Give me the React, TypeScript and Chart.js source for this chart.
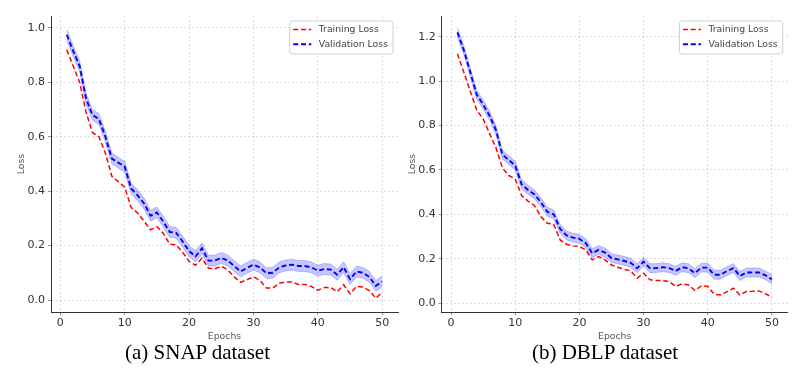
import React, { useEffect, useRef } from "react";
import { Chart, registerables } from "chart.js";

Chart.register(...registerables);

// ---------- data ----------
const epochs = Array.from({ length: 50 }, (_, i) => i + 1);
const xTicks = [0, 10, 20, 30, 40, 50];
const snapYTicks = [0, 0.2, 0.4, 0.6, 0.8, 1.0];
const dblpYTicks = [0, 0.2, 0.4, 0.6, 0.8, 1.0, 1.2];

const snapTrain = [
  0.92, 0.86, 0.8, 0.69, 0.615, 0.6, 0.54, 0.455, 0.435, 0.415,
  0.34, 0.32, 0.29, 0.258, 0.27, 0.245, 0.205, 0.203, 0.175, 0.142,
  0.128, 0.154, 0.117, 0.115, 0.124, 0.111, 0.085, 0.065, 0.075, 0.085,
  0.072, 0.044, 0.044, 0.062, 0.066, 0.066, 0.057, 0.057, 0.05, 0.036,
  0.046, 0.046, 0.03, 0.056, 0.023, 0.05, 0.048, 0.035, 0.007, 0.028,
];
const snapVal = [
  0.975, 0.915, 0.86, 0.74, 0.68, 0.665, 0.6, 0.52, 0.505, 0.49,
  0.41, 0.385, 0.355, 0.31, 0.322, 0.288, 0.25, 0.247, 0.215, 0.18,
  0.16, 0.19, 0.145, 0.145, 0.155, 0.145, 0.125, 0.105, 0.118, 0.13,
  0.12, 0.099, 0.1, 0.12, 0.127, 0.13, 0.125, 0.125, 0.12, 0.108,
  0.114, 0.112, 0.093, 0.121, 0.077, 0.105, 0.1, 0.085, 0.052, 0.068,
];
const dblpTrain = [
  1.124, 1.04, 0.955, 0.87, 0.83, 0.765, 0.7, 0.61, 0.575, 0.56,
  0.485, 0.46, 0.44, 0.39, 0.36, 0.355, 0.285, 0.265, 0.258, 0.255,
  0.24, 0.195, 0.21, 0.195, 0.172, 0.162, 0.152, 0.145, 0.112, 0.135,
  0.105, 0.102, 0.102, 0.097, 0.075, 0.087, 0.082, 0.057, 0.078, 0.075,
  0.04, 0.037, 0.052, 0.067, 0.037, 0.052, 0.053, 0.055, 0.042, 0.027,
];
const dblpVal = [
  1.22, 1.14, 1.04, 0.94, 0.895, 0.845, 0.78, 0.67, 0.645, 0.62,
  0.535, 0.51, 0.49, 0.455, 0.412, 0.4, 0.335, 0.305, 0.295, 0.29,
  0.27, 0.225, 0.24, 0.228, 0.203, 0.197, 0.19, 0.182, 0.157, 0.187,
  0.157, 0.158, 0.162, 0.158, 0.145, 0.162, 0.157, 0.135, 0.16, 0.16,
  0.128, 0.128, 0.145, 0.158, 0.122, 0.138, 0.138, 0.138, 0.125, 0.107,
];
const valBandHalfWidth = 0.02;

const legendLabels = ["Training Loss", "Validation Loss"];
const xTitle = "Epochs";
const yTitle = "Loss";
const captions = ["(a) SNAP dataset", "(b) DBLP dataset"];

// ---------- styles ----------
const RED = "rgb(255,0,0)";
const BLUE = "rgb(0,0,255)";
const BAND = "rgba(0,0,255,0.22)";
const GRID = "rgba(0,0,0,0.17)";
const FONT = "DejaVu Sans";

Chart.defaults.font.family = FONT;

const legendPlugin = {
  id: "insideLegend",
  afterDraw(chart: any) {
    const { ctx, chartArea } = chart;
    const ds = chart.data.datasets.slice(0, 2);
    ctx.save();
    ctx.font = `9.3px "${FONT}"`;
    const tw = Math.max(...ds.map((d: any) => ctx.measureText(d.label).width));
    const w = 29 + tw + 5;
    const h = 33;
    const x0 = chartArea.right - 5 - w;
    const y0 = chartArea.top + 5;
    ctx.beginPath();
    const r = 2.5;
    ctx.moveTo(x0 + r, y0);
    ctx.lineTo(x0 + w - r, y0);
    ctx.quadraticCurveTo(x0 + w, y0, x0 + w, y0 + r);
    ctx.lineTo(x0 + w, y0 + h - r);
    ctx.quadraticCurveTo(x0 + w, y0 + h, x0 + w - r, y0 + h);
    ctx.lineTo(x0 + r, y0 + h);
    ctx.quadraticCurveTo(x0, y0 + h, x0, y0 + h - r);
    ctx.lineTo(x0, y0 + r);
    ctx.quadraticCurveTo(x0, y0, x0 + r, y0);
    ctx.closePath();
    ctx.fillStyle = "rgba(255,255,255,0.85)";
    ctx.fill();
    ctx.strokeStyle = "#d0d0d0";
    ctx.lineWidth = 1;
    ctx.stroke();
    ds.forEach((d: any, i: number) => {
      const cy = y0 + 8.6 + i * 14.7;
      ctx.beginPath();
      ctx.setLineDash(d.borderDash);
      ctx.strokeStyle = d.borderColor;
      ctx.lineWidth = d.borderWidth;
      ctx.moveTo(x0 + 3.5, cy);
      ctx.lineTo(x0 + 21.5, cy);
      ctx.stroke();
      ctx.setLineDash([]);
      ctx.fillStyle = "#444";
      ctx.textBaseline = "middle";
      ctx.textAlign = "left";
      ctx.fillText(d.label, x0 + 29, cy);
    });
    ctx.restore();
  },
};

type PanelProps = {
  train: number[];
  val: number[];
  yTicks: number[];
  yMin: number;
  yMax: number;
  width: number;
  padLeft: number;
  yAxisWidth: number;
  padRight: number;
};

function axisGrid() {
  return {
    color: GRID,
    lineWidth: 0.8,
    drawTicks: true,
    tickLength: 3,
    tickColor: "#777",
    tickBorderDash: [],
    tickWidth: 0.8,
  };
}

function Panel(p: PanelProps) {
  const ref = useRef<HTMLCanvasElement | null>(null);
  useEffect(() => {
    const canvas = ref.current!;
    const upper = p.val.map((v) => v + valBandHalfWidth);
    const lower = p.val.map((v) => v - valBandHalfWidth);
    const pts = (arr: number[]) => arr.map((y, i) => ({ x: epochs[i], y }));
    const chart = new Chart(canvas, {
      type: "line",
      data: {
        datasets: [
          {
            label: legendLabels[0],
            data: pts(p.train),
            borderColor: RED,
            borderWidth: 1.5,
            borderDash: [5, 2.8],
            pointRadius: 0,
            tension: 0,
            fill: false,
            order: 1,
          },
          {
            label: legendLabels[1],
            data: pts(p.val),
            borderColor: BLUE,
            borderWidth: 1.9,
            borderDash: [5, 2.8],
            pointRadius: 0,
            tension: 0,
            fill: false,
            order: 0,
          },
          {
            label: "band-upper",
            data: pts(upper),
            borderColor: BAND,
            borderWidth: 1,
            pointRadius: 0,
            tension: 0,
            fill: false,
            order: 2,
          },
          {
            label: "band-lower",
            data: pts(lower),
            borderColor: BAND,
            backgroundColor: BAND,
            borderWidth: 1,
            pointRadius: 0,
            tension: 0,
            fill: "-1",
            order: 2,
          },
        ],
      },
      options: {
        responsive: false,
        animation: false,
        events: [],
        layout: { padding: { left: p.padLeft, right: p.padRight, top: 16, bottom: 0 } },
        plugins: { legend: { display: false }, tooltip: { enabled: false } },
        scales: {
          x: {
            type: "linear",
            min: -1.45,
            max: 52.45,
            afterBuildTicks: (s: any) => {
              s.ticks = xTicks.map((v) => ({ value: v }));
            },
            afterFit: (s: any) => {
              s.height = 30;
            },
            grid: axisGrid(),
            border: { display: true, color: "#333", width: 1, dash: [2, 2] },
            ticks: {
              color: "#333",
              font: { size: 11 },
              padding: 2,
              maxRotation: 0,
              callback: (v: any) => String(v),
            },
            title: {
              display: true,
              text: xTitle,
              color: "#555",
              font: { size: 9.3 },
              padding: 0,
            },
          },
          y: {
            type: "linear",
            min: p.yMin,
            max: p.yMax,
            afterBuildTicks: (s: any) => {
              s.ticks = p.yTicks.map((v) => ({ value: v }));
            },
            afterFit: (s: any) => {
              s.width = p.yAxisWidth;
            },
            grid: axisGrid(),
            border: { display: true, color: "#333", width: 1, dash: [2, 2] },
            ticks: {
              color: "#333",
              font: { size: 11 },
              padding: 3,
              callback: (v: any) => Number(v).toFixed(1),
            },
            title: {
              display: true,
              text: yTitle,
              color: "#555",
              font: { size: 9.3 },
              padding: 0,
            },
          },
        },
      },
      plugins: [legendPlugin],
    });
    return () => chart.destroy();
  }, []);
  return <canvas ref={ref} width={p.width} height={342} style={{ display: "block" }} />;
}

export default function App() {
  const captionStyle: React.CSSProperties = {
    position: "absolute",
    top: 341,
    height: 22,
    lineHeight: "22px",
    fontFamily: '"Liberation Serif", "Times New Roman", serif',
    fontSize: 21,
    color: "#000",
    textAlign: "center",
    whiteSpace: "nowrap",
  };
  return (
    <div
      style={{
        position: "fixed",
        left: 0,
        top: 0,
        width: 811,
        height: 382,
        background: "#fff",
        overflow: "hidden",
      }}
    >
      <div style={{ position: "absolute", left: 0, top: 0 }}>
        <Panel
          train={snapTrain}
          val={snapVal}
          yTicks={snapYTicks}
          yMin={-0.044}
          yMax={1.044}
          width={405}
          padLeft={16}
          yAxisWidth={35}
          padRight={7}
        />
      </div>
      <div style={{ position: "absolute", left: 405, top: 0 }}>
        <Panel
          train={dblpTrain}
          val={dblpVal}
          yTicks={dblpYTicks}
          yMin={-0.04}
          yMax={1.294}
          width={406}
          padLeft={2}
          yAxisWidth={34.7}
          padRight={23.3}
        />
      </div>
      <div style={{ ...captionStyle, left: 0, width: 395 }}>{captions[0]}</div>
      <div style={{ ...captionStyle, left: 405, width: 400 }}>{captions[1]}</div>
    </div>
  );
}
